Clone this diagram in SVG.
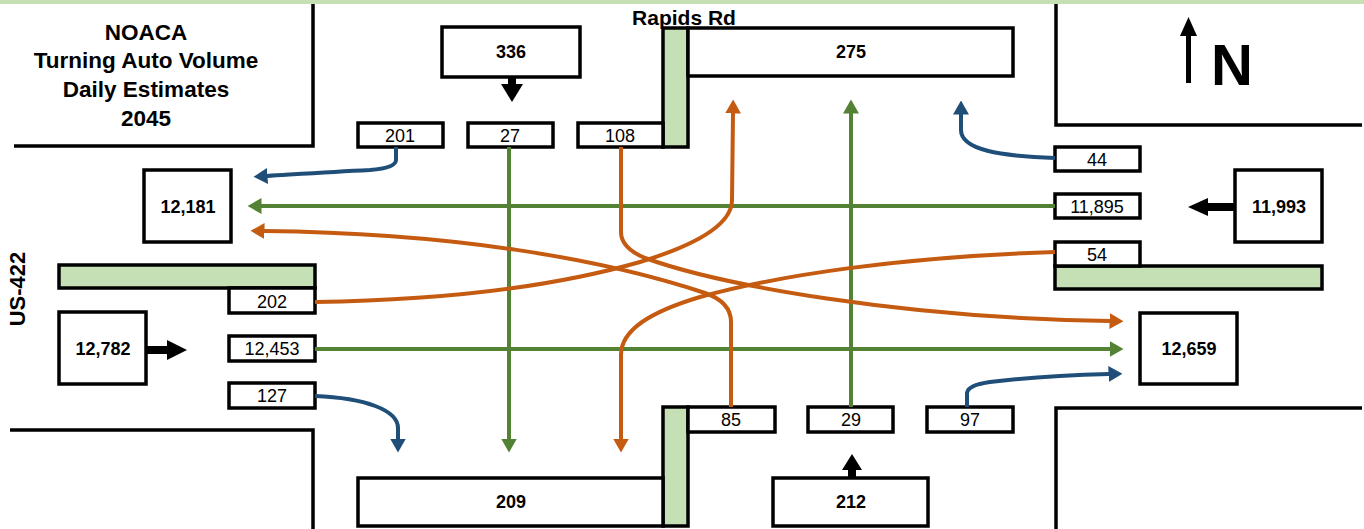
<svg xmlns="http://www.w3.org/2000/svg" width="1364" height="529" viewBox="0 0 1364 529">
<style>
.box{fill:#fff;stroke:#000;stroke-width:3.5}
.bar{fill:#c5e0b4;stroke:#000;stroke-width:3.5}
.edge{fill:none;stroke:#000;stroke-width:3.5}
.t{font-family:"Liberation Sans",Arial,sans-serif;fill:#000;text-anchor:middle}
.big{font-size:18px;font-weight:bold}
.sm{font-size:18px}
.title{font-size:22.5px;font-weight:bold}
.blue{fill:none;stroke:#1f4e79;stroke-width:4}
.green{fill:none;stroke:#548235;stroke-width:4}
.orange{fill:none;stroke:#c55a11;stroke-width:4}
</style>
<defs>
<marker id="hb" markerUnits="userSpaceOnUse" markerWidth="14" markerHeight="16" viewBox="0 0 14 16" refX="0.5" refY="8" orient="auto"><path d="M0,0 L14,8 L0,16 z" fill="#1f4e79"/></marker>
<marker id="hg" markerUnits="userSpaceOnUse" markerWidth="14" markerHeight="16" viewBox="0 0 14 16" refX="0.5" refY="8" orient="auto"><path d="M0,0 L14,8 L0,16 z" fill="#548235"/></marker>
<marker id="ho" markerUnits="userSpaceOnUse" markerWidth="14" markerHeight="16" viewBox="0 0 14 16" refX="0.5" refY="8" orient="auto"><path d="M0,0 L14,8 L0,16 z" fill="#c55a11"/></marker>
</defs>
<rect x="0" y="0" width="1364" height="4" fill="#c5e0b4"/>
<g id="road-edges">
<polyline class="edge" points="14,146 313,146 313,4"/>
<polyline class="edge" points="1056,4 1056,125 1362,125"/>
<polyline class="edge" points="10,430 313,430 313,529"/>
<polyline class="edge" points="1362,408 1056,408 1056,529"/>
</g>
<g id="title">
<text class="t title" x="146" y="40">NOACA</text>
<text class="t title" x="146" y="68">Turning Auto Volume</text>
<text class="t title" x="146" y="97">Daily Estimates</text>
<text class="t title" x="146" y="126">2045</text>
</g>
<text class="t" x="684" y="25" font-size="21" font-weight="bold">Rapids Rd</text>
<text class="t" font-size="22" font-weight="bold" transform="translate(25,289) rotate(-90)">US-422</text>
<g id="north">
<rect x="1186" y="33" width="5" height="50" fill="#000"/>
<polygon points="1180,36 1197,36 1188.5,17" fill="#000"/>
<text class="t" x="1232" y="85" font-size="58" font-weight="bold">N</text>
</g>
<g id="medians">
<rect class="bar" x="663" y="28" width="25" height="119"/>
<rect class="bar" x="59" y="265" width="256" height="23"/>
<rect class="bar" x="1055" y="266" width="267" height="23"/>
<rect class="bar" x="663" y="407" width="25" height="119"/>
</g>
<g id="n336"><rect class="box" x="442" y="27" width="138" height="50"/><text class="t big" x="511" y="58">336</text></g>
<g id="n275"><rect class="box" x="688" y="28" width="325" height="48"/><text class="t big" x="851" y="58">275</text></g>
<g id="n201"><rect class="box" x="358" y="123" width="85" height="24"/><text class="t sm" x="400" y="142">201</text></g>
<g id="n27"><rect class="box" x="468" y="123" width="85" height="24"/><text class="t sm" x="510" y="142">27</text></g>
<g id="n108"><rect class="box" x="578" y="123" width="85" height="24"/><text class="t sm" x="620" y="142">108</text></g>
<g id="n12181"><rect class="box" x="144" y="170" width="87" height="72"/><text class="t big" x="188" y="213">12,181</text></g>
<g id="n202"><rect class="box" x="229" y="288" width="86" height="25"/><text class="t sm" x="272" y="308">202</text></g>
<g id="n12782"><rect class="box" x="59" y="312" width="87" height="72"/><text class="t big" x="103" y="355" font-size="16">12,782</text></g>
<g id="n12453"><rect class="box" x="229" y="336" width="86" height="25"/><text class="t sm" x="272" y="355">12,453</text></g>
<g id="n127"><rect class="box" x="229" y="383" width="86" height="25"/><text class="t sm" x="272" y="402">127</text></g>
<g id="n44"><rect class="box" x="1055" y="147" width="85" height="24"/><text class="t sm" x="1097" y="166">44</text></g>
<g id="n11895"><rect class="box" x="1055" y="194" width="85" height="24"/><text class="t sm" x="1097" y="213">11,895</text></g>
<g id="n54"><rect class="box" x="1055" y="242" width="85" height="24"/><text class="t sm" x="1097" y="261">54</text></g>
<g id="n11993"><rect class="box" x="1235" y="170" width="87" height="72"/><text class="t big" x="1279" y="213">11,993</text></g>
<g id="n12659"><rect class="box" x="1140" y="313" width="97" height="71"/><text class="t big" x="1189" y="355">12,659</text></g>
<g id="n85"><rect class="box" x="688" y="407" width="87" height="25"/><text class="t sm" x="731" y="426">85</text></g>
<g id="n29"><rect class="box" x="808" y="407" width="85" height="25"/><text class="t sm" x="851" y="426">29</text></g>
<g id="n97"><rect class="box" x="927" y="407" width="86" height="25"/><text class="t sm" x="970" y="426">97</text></g>
<g id="n209"><rect class="box" x="358" y="478" width="305" height="48"/><text class="t big" x="511" y="508">209</text></g>
<g id="n212"><rect class="box" x="773" y="478" width="155" height="48"/><text class="t big" x="851" y="508">212</text></g>
<g id="approach-arrows">
<rect x="508" y="76" width="8" height="9" fill="#000"/><polygon points="501,84 523,84 512,102" fill="#000"/>
<rect x="848" y="468" width="8" height="10" fill="#000"/><polygon points="842,470 862,470 852,454" fill="#000"/>
<rect x="146" y="346" width="22" height="8" fill="#000"/><polygon points="167,340 167,360 187,350" fill="#000"/>
<rect x="1207" y="203" width="28" height="8" fill="#000"/><polygon points="1208,198 1208,216 1188,207" fill="#000"/>
</g>
<g id="connectors">
<path class="green" d="M509,147 L509,439" marker-end="url(#hg)"/>
<path class="green" d="M851,407 L851,113" marker-end="url(#hg)"/>
<path class="green" d="M1055,206 L261,206" marker-end="url(#hg)"/>
<path class="green" d="M315,349 L1110,349" marker-end="url(#hg)"/>
<path class="blue" d="M396,147 L396,160 Q396,168 370,170 C330,172 300,174 267,176" marker-end="url(#hb)"/>
<path class="blue" d="M1055,158 C1000,156 961,150 961,130 L961,114" marker-end="url(#hb)"/>
<path class="blue" d="M315,396 C365,398 398,410 398,428 L398,439" marker-end="url(#hb)"/>
<path class="blue" d="M967,407 L967,393 Q968,385 990,382 C1030,377 1070,375 1109,374" marker-end="url(#hb)"/>
<path class="orange" d="M315,302 C450,300 560,285 640,262 C686,248 732,228 732,200 L733,113" marker-end="url(#ho)"/>
<path class="orange" d="M1055,252 C900,257 780,275 700,297 C650,312 621,330 621,355 L621,439" marker-end="url(#ho)"/>
<path class="orange" d="M621,147 L621,232 Q621,248 645,258 C720,285 900,318 1110,321" marker-end="url(#ho)"/>
<path class="orange" d="M731,407 L731,322 Q731,302 705,293 C600,258 450,233 264,231" marker-end="url(#ho)"/>
</g>
</svg>
